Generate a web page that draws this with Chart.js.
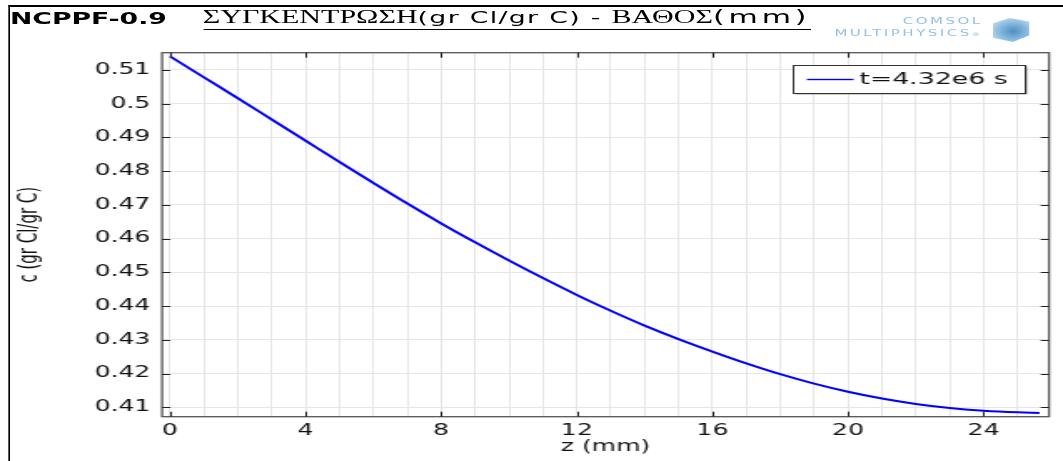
<!DOCTYPE html>
<html>
<head>
<meta charset="utf-8">
<script src="https://cdn.jsdelivr.net/npm/chart.js@4.4.1/dist/chart.umd.min.js"></script>
<style>
  html, body { margin: 0; padding: 0; background: #fff; overflow: hidden; }
  /* the plot is laid out narrow and widened horizontally */
  #stage { position: absolute; left: 0; top: 0; width: 637px; height: 461px;
           transform: scaleX(1.6688); transform-origin: 0 0; }
  #stage canvas { position: absolute; left: 0; top: 0; }
  #frame { position: absolute; left: 4.6px; top: 5px; width: 640px; height: 460px;
           border-left: 1.4px solid #000; border-top: 2px solid #000; }
  #title { position: absolute; left: 6px; top: 9px; white-space: nowrap; color: #000; }
  #title .tag { font: bold 16px "DejaVu Sans"; }
  #title .head { position: absolute; left: 115.5px; top: -3px; display: flex; align-items: baseline;
                 border-bottom: 1.2px solid #000; padding-bottom: 1px; }
  #title .gr { font: 18px "Liberation Serif"; }
  #title .ss { font: 16px "DejaVu Sans"; letter-spacing: 0.8px; white-space: pre; }
  #title .unit { font-size: 18px; letter-spacing: 2.3px; }
  #logo { position: absolute; left: 500px; top: 16px; color: #94c2e2; font: 9px "DejaVu Sans";
          line-height: 11.5px; text-align: right; letter-spacing: 1.5px; }
  #cube { position: absolute; left: 595px; top: 18px; width: 22px; height: 24px;
          background: radial-gradient(circle at 55% 55%, #4f8fc4 0%, #7fb3dc 40%, #c4def0 85%);
          clip-path: polygon(45% 0, 100% 15%, 100% 72%, 55% 100%, 0 82%, 0 22%); }
</style>
</head>
<body>
<div id="stage">
  <canvas id="chart" width="637" height="461"></canvas>
  <div id="frame"></div>
  <div id="title">
    <span class="tag">NCPPF-0.9</span>
    <span class="head"><span class="gr">ΣΥΓΚΕΝΤΡΩΣΗ</span><span class="ss">(gr Cl/gr C) - </span><span class="gr">ΒΑΘΟΣ</span><span class="ss unit">(mm)</span></span>
  </div>
  <div id="logo">COMSOL<br>MULTIPHYSICS<span style="font-size:5px">®</span></div>
  <div id="cube"></div>
</div>
<script>
// depth (mm) and chloride concentration along the profile
const depth = [0, 1, 2, 3, 4, 5, 6, 7, 8, 9, 10, 11, 12, 13, 14, 15, 16, 17, 18, 19, 20, 21, 22, 23, 24, 25, 25.65];
const conc = [0.5140, 0.5078, 0.5016, 0.4953, 0.4890, 0.4827, 0.4765, 0.4704, 0.4645, 0.4589,
              0.4535, 0.4483, 0.4433, 0.4386, 0.4342, 0.4302, 0.4265, 0.4230, 0.4198, 0.4170,
              0.4146, 0.4126, 0.4110, 0.4098, 0.4090, 0.4085, 0.4083];
const seriesLabel = "t=4.32e6 s";

// grid every mm, labels every 4 mm
const xGrid = [0, 1, 2, 3, 4, 5, 6, 7, 8, 9, 10, 11, 12, 13, 14, 15, 16, 17, 18, 19, 20, 21, 22, 23, 24, 25];
const xTicks = [0, 4, 8, 12, 16, 20, 24];
const yTicks = [0.41, 0.42, 0.43, 0.44, 0.45, 0.46, 0.47, 0.48, 0.49, 0.5, 0.51];

const FONT = "DejaVu Sans";

// box frame with inward tick marks on all four sides
const frameTicks = {
  id: "frameTicks",
  afterDatasetsDraw(chart) {
    const { ctx, chartArea: a, scales: { x, y } } = chart;
    ctx.save();
    ctx.strokeStyle = "#555";
    ctx.lineWidth = 1.3;
    ctx.strokeRect(a.left, a.top, a.right - a.left, a.bottom - a.top);
    ctx.strokeStyle = "#222";
    ctx.lineWidth = 1;
    ctx.beginPath();
    xTicks.forEach(v => {
      const px = Math.round(x.getPixelForValue(v)) + 0.5;
      ctx.moveTo(px, a.bottom); ctx.lineTo(px, a.bottom - 5);
      ctx.moveTo(px, a.top); ctx.lineTo(px, a.top + 5);
    });
    yTicks.forEach(v => {
      const py = Math.round(y.getPixelForValue(v)) + 0.5;
      ctx.moveTo(a.left, py); ctx.lineTo(a.left + 5, py);
      ctx.moveTo(a.right, py); ctx.lineTo(a.right - 5, py);
    });
    ctx.stroke();
    ctx.restore();
  }
};

// legend box in the upper right of the plot
const boxLegend = {
  id: "boxLegend",
  afterDraw(chart) {
    const { ctx } = chart;
    const ds = chart.data.datasets[0];
    const bx = 475, by = 65, bw = 139, bh = 28;
    ctx.save();
    ctx.fillStyle = "#9a9a9a";
    ctx.fillRect(bx + 1.5, by + 1.5, bw, bh);
    ctx.fillStyle = "#fff";
    ctx.fillRect(bx, by, bw, bh);
    ctx.strokeStyle = "#333";
    ctx.lineWidth = 1;
    ctx.strokeRect(bx + 0.5, by + 0.5, bw, bh);
    ctx.strokeStyle = ds.borderColor;
    ctx.lineWidth = 1.4;
    ctx.beginPath();
    ctx.moveTo(bx + 8.5, by + 14.5);
    ctx.lineTo(bx + 36.5, by + 14.5);
    ctx.stroke();
    ctx.fillStyle = "#111";
    ctx.font = "16px '" + FONT + "'";
    ctx.textBaseline = "middle";
    ctx.fillText(ds.label, bx + 40, by + 15);
    ctx.restore();
  }
};

new Chart(document.getElementById("chart"), {
  type: "line",
  data: {
    datasets: [{
      label: seriesLabel,
      data: depth.map((z, i) => ({ x: z, y: conc[i] })),
      borderColor: "#0000ff",
      borderWidth: 2,
      pointRadius: 0,
      cubicInterpolationMode: "monotone",
      fill: false
    }]
  },
  options: {
    responsive: false,
    animation: false,
    devicePixelRatio: 1,
    layout: { padding: { left: 0, top: 52.7, right: 8.4, bottom: 0 } },
    plugins: { legend: { display: false }, tooltip: { enabled: false } },
    scales: {
      x: {
        type: "linear",
        min: -0.236,
        max: 25.93,
        afterBuildTicks: s => { s.ticks = xGrid.map(v => ({ value: v })); },
        afterFit: s => { s.height = 44.3; },
        grid: { color: "#e6e6e6", lineWidth: 1, drawTicks: false },
        border: { display: false },
        ticks: {
          autoSkip: false, maxRotation: 0, padding: 5,
          color: "#111", font: { family: FONT, size: 15 },
          callback: v => xTicks.includes(v) ? String(v) : ""
        },
        title: { display: true, text: "z (mm)", color: "#111",
                 font: { family: FONT, size: 15 }, padding: { top: 0, bottom: 5 } }
      },
      y: {
        type: "linear",
        min: 0.40721,
        max: 0.5151,
        afterBuildTicks: s => { s.ticks = yTicks.map(v => ({ value: v })); },
        afterFit: s => { s.width = 97.1; },
        grid: { color: "#e6e6e6", lineWidth: 1, drawTicks: false },
        border: { display: false },
        ticks: {
          padding: 7, color: "#111", font: { family: FONT, size: 15 },
          callback: v => String(+v.toFixed(2))
        },
        title: { display: true, text: "c (gr Cl/gr C)", color: "#111",
                 font: { family: FONT, size: 15 }, padding: { top: 9, bottom: 0 } }
      }
    }
  },
  plugins: [frameTicks, boxLegend]
});
</script>
</body>
</html>
